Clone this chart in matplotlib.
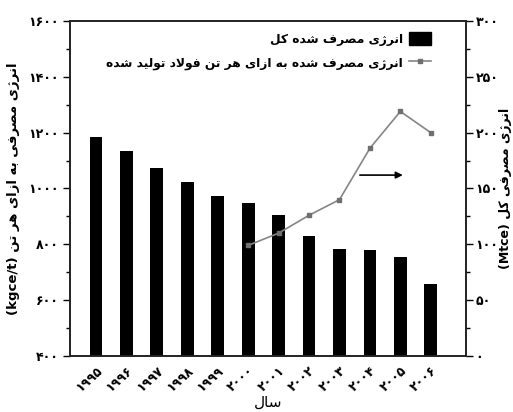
import matplotlib
matplotlib.use("Agg")
import matplotlib.pyplot as plt
from matplotlib.patches import Patch
from matplotlib.lines import Line2D
from matplotlib.ticker import MultipleLocator

# Data
years = [1995, 1996, 1997, 1998, 1999, 2000, 2001, 2002, 2003, 2004, 2005, 2006]
per_ton = [1186, 1134, 1073, 1022, 973, 949, 905, 830, 784, 779, 756, 658]   # bars, left axis
line_years = [2000, 2001, 2002, 2003, 2004, 2005, 2006]
total_energy = [99, 110, 126, 140, 186, 219, 200]                          # line, right axis

label_bar = "انرژی مصرف شده کل"
label_line = "انرژی مصرف شده به ازای هر تن فولاد تولید شده"
ylabel_left = "انرژی مصرفی به ازای هر تن"
ylabel_right = "انرژی مصرفی کل"
xlabel = "سال"

# Simple Persian shaping (matplotlib does no Arabic shaping / bidi)
FORMS = {
    'ا': ('\uFE8D', '\uFE8E'),
    'ب': ('\uFE8F', '\uFE90', '\uFE91', '\uFE92'),
    'ت': ('\uFE95', '\uFE96', '\uFE97', '\uFE98'),
    'د': ('\uFEA9', '\uFEAA'),
    'ر': ('\uFEAD', '\uFEAE'),
    'ز': ('\uFEAF', '\uFEB0'),
    'ژ': ('\uFB8A', '\uFB8B'),
    'س': ('\uFEB1', '\uFEB2', '\uFEB3', '\uFEB4'),
    'ش': ('\uFEB5', '\uFEB6', '\uFEB7', '\uFEB8'),
    'ص': ('\uFEB9', '\uFEBA', '\uFEBB', '\uFEBC'),
    'ف': ('\uFED1', '\uFED2', '\uFED3', '\uFED4'),
    'ک': ('\uFB8E', '\uFB8F', '\uFB90', '\uFB91'),
    'ل': ('\uFEDD', '\uFEDE', '\uFEDF', '\uFEE0'),
    'م': ('\uFEE1', '\uFEE2', '\uFEE3', '\uFEE4'),
    'ن': ('\uFEE5', '\uFEE6', '\uFEE7', '\uFEE8'),
    'ه': ('\uFEE9', '\uFEEA', '\uFEEB', '\uFEEC'),
    'و': ('\uFEED', '\uFEEE'),
    'ی': ('\uFBFC', '\uFBFD', '\uFBFE', '\uFBFF'),
}


def fa(text):
    out = []
    i = 0
    n = len(text)
    while i < n:
        ch = text[i]
        if ch not in FORMS:
            out.append(ch)
            i += 1
            continue
        prev = text[i - 1] if i > 0 else ''
        join_prev = prev in FORMS and len(FORMS[prev]) == 4
        if ch == 'ل' and i + 1 < n and text[i + 1] == 'ا':
            out.append('\uFEFC' if join_prev else '\uFEFB')
            i += 2
            continue
        nxt = text[i + 1] if i + 1 < n else ''
        f = FORMS[ch]
        join_next = len(f) == 4 and nxt in FORMS
        if join_prev and join_next:
            g = f[3]
        elif join_prev:
            g = f[1]
        elif join_next:
            g = f[2]
        else:
            g = f[0]
        out.append(g)
        i += 1
    return ''.join(reversed(out))


def fa_num(v):
    return str(v).translate(str.maketrans('0123456789', '۰۱۲۳۴۵۶۷۸۹'))


plt.rcParams['font.family'] = ['DejaVu Sans']

fig = plt.figure(figsize=(5.13, 4.12), dpi=100)
ax = fig.add_axes([0.1365, 0.136, 0.7715, 0.813])
ax2 = ax.twinx()

x = list(range(len(years)))
ax.bar(x, per_ton, width=0.42, color='black', zorder=2)
line_x = [years.index(y) for y in line_years]
ax2.plot(line_x, total_energy, color='#858585', lw=1.2, marker='s', markersize=3.5,
         markerfacecolor='#6f6f6f', markeredgecolor='#6f6f6f', zorder=3)

# arrow pointing to the right axis
ax2.annotate('', xy=(10.08, 162), xytext=(8.67, 162),
             arrowprops=dict(arrowstyle='-|>', color='black', lw=1.2,
                             shrinkA=0, shrinkB=0, mutation_scale=10))

ax.set_xlim(-0.85, 12.15)
ax.set_ylim(400, 1600)
ax2.set_ylim(0, 300)

ax.yaxis.set_minor_locator(MultipleLocator(100))
ax2.yaxis.set_minor_locator(MultipleLocator(25))

ax.set_yticks(range(400, 1601, 200))
ax.set_yticklabels([fa_num(v) for v in range(400, 1601, 200)], fontsize=9, fontweight='bold')
ax2.set_yticks(range(0, 301, 50))
ax2.set_yticklabels([fa_num(v) for v in range(0, 301, 50)], fontsize=9, fontweight='bold')
ax.set_xticks(x)
ax.set_xticklabels([fa_num(y) for y in years], rotation=42, ha='right',
                   rotation_mode='anchor', fontsize=9, fontweight='bold')

ax.tick_params(axis='x', length=0, pad=6)
ax.tick_params(axis='y', which='major', direction='out', length=5, width=1, pad=3)
ax.tick_params(axis='y', which='minor', direction='out', length=3, width=1)
ax2.tick_params(axis='y', which='major', direction='out', length=5, width=1, pad=2)
ax2.tick_params(axis='y', which='minor', direction='out', length=3, width=1)

for a in (ax, ax2):
    for s in a.spines.values():
        s.set_linewidth(1.2)
        s.set_color('#222222')

ax.set_ylabel("(kgce/t) " + fa(ylabel_left), fontsize=9.5, fontweight='bold', labelpad=6)
ax2.set_ylabel("(Mtce) " + fa(ylabel_right), fontsize=9, fontweight='bold',
               rotation=90, va='center')
ax2.yaxis.set_label_coords(1.1, 0.5)
ax.set_xlabel(fa(xlabel), fontsize=11, labelpad=0)

handles = [
    Patch(facecolor='black', edgecolor='black'),
    Line2D([0], [0], color='#858585', lw=1.2, marker='s', markersize=3.5,
           markerfacecolor='#6f6f6f', markeredgecolor='#6f6f6f'),
]
ax2.legend(handles, [fa(label_bar), fa(label_line)], loc='upper right',
           bbox_to_anchor=(0.94, 1.0), frameon=False, markerfirst=False,
           prop={'size': 8.8, 'weight': 'bold'}, handlelength=1.8,
           handleheight=1.3, labelspacing=0.8, handletextpad=0.5)

fig.savefig('out.png', dpi=100)
